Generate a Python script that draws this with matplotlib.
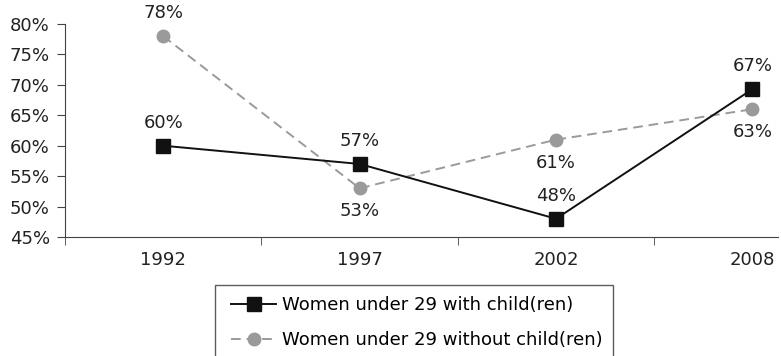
import matplotlib.pyplot as plt
from matplotlib.legend_handler import HandlerLine2D

plt.rcParams['font.family'] = ['DejaVu Sans']

years = ["1992", "1997", "2002", "2008"]
with_child = [60, 57, 48, 69.3]
without_child = [78, 53, 61, 66]
with_child_labels = ["60%", "57%", "48%", "67%"]
without_child_labels = ["78%", "53%", "61%", "63%"]
with_child_pos = ["above", "above", "above", "above"]
without_child_pos = ["above", "below", "below", "below"]

FS = 13

fig = plt.figure(figsize=(7.81, 3.56), dpi=100)
ax = fig.add_axes([65 / 781, 1 - 237 / 356, (778 - 65) / 781, (237 - 24) / 356])

x = range(len(years))
l1, = ax.plot(x, with_child, color='#111111', lw=1.4, marker='s', markersize=9.5,
              label="Women under 29 with child(ren)", zorder=3)
l2, = ax.plot(x, without_child, color='#9a9a9a', lw=1.4, ls=(0, (5, 3)), marker='o',
              markersize=9, label="Women under 29 without child(ren)", zorder=2)

def put_labels(vals, labels, pos):
    for i, (v, lab, p) in enumerate(zip(vals, labels, pos)):
        off = 10 if p == "above" else -10
        ax.annotate(lab, (i, v), xytext=(0, off), textcoords='offset points',
                    ha='center', va='bottom' if off > 0 else 'top',
                    fontsize=FS, color='#222222')

put_labels(with_child, with_child_labels, with_child_pos)
put_labels(without_child, without_child_labels, without_child_pos)

ax.set_xlim(-0.5, 3.13)
ax.set_ylim(45, 80)
ax.set_yticks(range(45, 81, 5))
ax.set_yticklabels([f"{v}%" for v in range(45, 81, 5)])
ax.set_xticks(list(x))
ax.set_xticklabels(years)
ax.set_xticks([-0.5, 0.5, 1.5, 2.5], minor=True)
ax.tick_params(axis='x', which='major', length=0, pad=10, labelsize=FS, labelcolor='#222222')
ax.tick_params(axis='x', which='minor', length=6, color='#444444')
ax.tick_params(axis='y', length=6, pad=5, labelsize=FS, labelcolor='#222222', color='#444444')
for s in ['top', 'right']:
    ax.spines[s].set_visible(False)
for s in ['left', 'bottom']:
    ax.spines[s].set_color('#444444')

hm = {l1: HandlerLine2D(xpad=0.3), l2: HandlerLine2D(xpad=0.3)}
leg = fig.legend(handles=[l1, l2], handler_map=hm, loc='upper left',
                 bbox_to_anchor=(215 / 781, 1 - 285 / 356),
                 fontsize=FS, handlelength=2.8, handletextpad=0.3,
                 borderpad=0.6, labelspacing=0.95, fancybox=False,
                 frameon=True, borderaxespad=0)
leg.get_frame().set_edgecolor('#333333')
leg.get_frame().set_linewidth(1)

fig.savefig("out.png", dpi=100)
